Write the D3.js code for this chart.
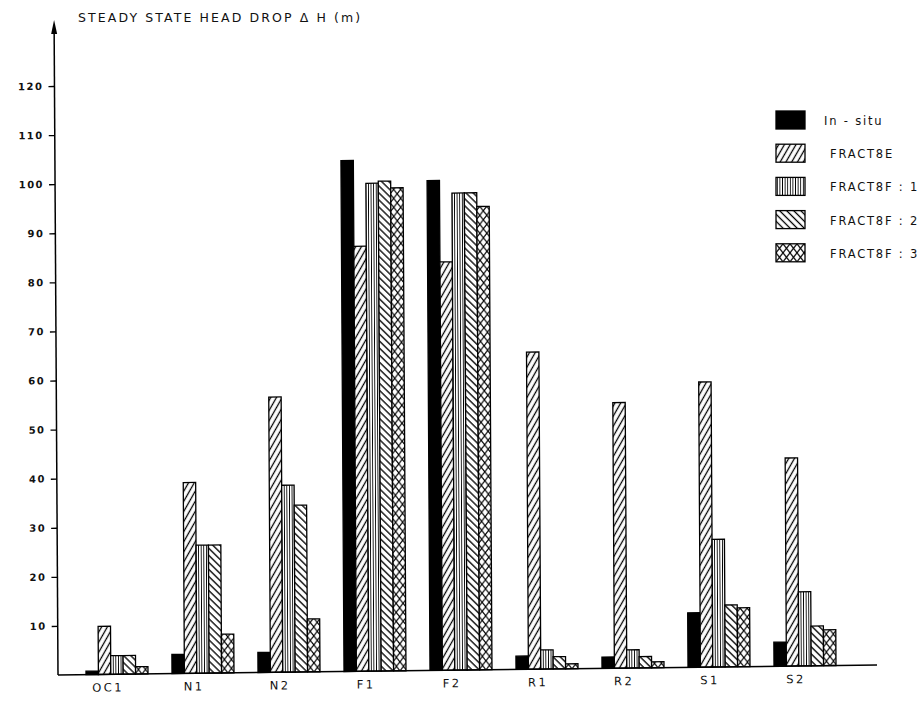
<!DOCTYPE html>
<html>
<head>
<meta charset="utf-8">
<script src="https://cdn.jsdelivr.net/npm/d3@7"></script>
<style>
  body { margin: 0; background: #fff; }
  svg { display: block; }
  text { font-family: "DejaVu Sans", "Liberation Sans", sans-serif; fill: #111; }
</style>
</head>
<body>
<svg id="chart" width="921" height="701"></svg>
<script>
// ---- data ----
const categories = ["OC1", "N1", "N2", "F1", "F2", "R1", "R2", "S1", "S2"];
const seriesKeys = ["insitu", "f8e", "f8f1", "f8f2", "f8f3"];
const legendLabels = ["In - situ", "FRACT8E", "FRACT8F : 1", "FRACT8F : 2", "FRACT8F : 3"];
const inSitu   = [0.7, 3.9, 4.1, 104.1, 99.8, 2.7, 2.3, 11.1, 4.9];
const fract8E  = [9.8, 38.9, 56.1, 86.6, 83.2, 64.6, 54.1, 58.1, 42.4];
const fract8F1 = [3.8, 26.1, 38.1, 99.4, 97.2, 3.9, 3.7, 26.0, 15.1];
const fract8F2 = [3.8, 26.1, 34.0, 99.8, 97.2, 2.5, 2.3, 12.6, 8.1];
const fract8F3 = [1.5, 7.9, 10.8, 98.4, 94.4, 1.0, 1.2, 12.0, 7.3];
const yTicks = [10, 20, 30, 40, 50, 60, 70, 80, 90, 100, 110, 120];
const titleText = "STEADY STATE HEAD DROP \u0394 H (m)";

const seriesValues = [inSitu, fract8E, fract8F1, fract8F2, fract8F3];
const table = categories.map((c, i) => {
  const row = { cat: c };
  seriesKeys.forEach((k, j) => row[k] = seriesValues[j][i]);
  return row;
});

const svg = d3.select("#chart");
const defs = svg.append("defs");

// ---- patterns ----
function linePattern(id, spacing, angle, sw) {
  const p = defs.append("pattern").attr("id", id)
    .attr("patternUnits", "userSpaceOnUse")
    .attr("width", spacing).attr("height", spacing)
    .attr("patternTransform", `rotate(${angle})`);
  p.append("rect").attr("width", spacing).attr("height", spacing).attr("fill", "#fff");
  p.append("line").attr("x1", spacing / 2).attr("y1", -1).attr("x2", spacing / 2).attr("y2", spacing + 1)
    .attr("stroke", "#000").attr("stroke-width", sw);
}
linePattern("pE", 5, 30, 1.3);
linePattern("pF1", 2.6, 0, 0.9);
linePattern("pF2", 5, -45, 1.3);
(function () {
  const w = 7, h = 9;
  const p = defs.append("pattern").attr("id", "pF3")
    .attr("patternUnits", "userSpaceOnUse").attr("width", w).attr("height", h);
  p.append("rect").attr("width", w).attr("height", h).attr("fill", "#fff");
  p.append("path").attr("d", `M0,0L${w},${h}M${w},0L0,${h}`)
    .attr("stroke", "#000").attr("stroke-width", 1.2).attr("fill", "none");
})();
const fills = { insitu: "#000", f8e: "url(#pE)", f8f1: "url(#pF1)", f8f2: "url(#pF2)", f8f3: "url(#pF3)" };

// ---- scales ----
const y = d3.scaleLinear().domain([0, 120]).range([675, 86]);
const x0 = d3.scaleBand().domain(categories).range([86, 836]).paddingInner(24 / 86).paddingOuter(0);
const x1 = d3.scaleBand().domain(seriesKeys).range([0, x0.bandwidth()]);

// slight scan distortion of the plot (baseline rises to the right, axis leans left)
const skX = 0.006, skY = 0.0122;
const g = svg.append("g")
  .attr("transform", `matrix(1,${-skY},${skX},1,${-skX * 675},${skY * 58})`);

// bars
const groups = g.selectAll("g.grp").data(table).join("g")
  .attr("class", "grp")
  .attr("transform", d => `translate(${x0(d.cat)},0)`);
groups.selectAll("rect").data(d => seriesKeys.map(k => ({ key: k, value: d[k] }))).join("rect")
  .attr("x", d => x1(d.key))
  .attr("width", x1.bandwidth())
  .attr("y", d => y(d.value))
  .attr("height", d => y(0) - y(d.value))
  .attr("fill", d => fills[d.key])
  .attr("stroke", "#000")
  .attr("stroke-width", 1.3);

// y axis
const yAxis = g.append("g").attr("transform", "translate(58,0)")
  .call(d3.axisLeft(y).tickValues(yTicks).tickSize(6).tickPadding(5));
yAxis.select(".domain").remove();
yAxis.selectAll(".tick line").attr("stroke", "#000").attr("stroke-width", 1.3);
yAxis.selectAll(".tick text").attr("font-size", 10).attr("font-weight", "bold")
  .attr("letter-spacing", 1.5).attr("fill", "#111");
g.append("line").attr("x1", 58).attr("x2", 58).attr("y1", y(0)).attr("y2", 26)
  .attr("stroke", "#000").attr("stroke-width", 1.5);
g.append("path").attr("d", "M58,20 L55,34 L61,34 Z").attr("fill", "#000");

// x axis
g.append("line").attr("x1", 58).attr("x2", 877).attr("y1", y(0)).attr("y2", y(0))
  .attr("stroke", "#000").attr("stroke-width", 1.5);
const xAxis = g.append("g").attr("transform", `translate(-9,${y(0)})`)
  .call(d3.axisBottom(x0).tickSize(0).tickPadding(9));
xAxis.select(".domain").remove();
xAxis.selectAll(".tick text").attr("font-size", 11.5).attr("letter-spacing", 2.5).attr("fill", "#111");

// title
svg.append("text").attr("x", 78).attr("y", 22)
  .attr("font-size", 12.5).attr("letter-spacing", 2.1)
  .text(titleText);

// legend
const legend = svg.append("g");
const lrow = legend.selectAll("g").data(seriesKeys).join("g")
  .attr("transform", (d, i) => `translate(776,${111 + i * 33.2})`);
lrow.append("rect").attr("width", 29).attr("height", 18)
  .attr("fill", d => fills[d]).attr("stroke", "#000").attr("stroke-width", 1.3);
lrow.append("text").attr("x", (d, i) => i === 0 ? 48 : 54).attr("y", 14)
  .attr("font-size", 11.5).attr("letter-spacing", 1.8)
  .text((d, i) => legendLabels[i]);
</script>
</body>
</html>
